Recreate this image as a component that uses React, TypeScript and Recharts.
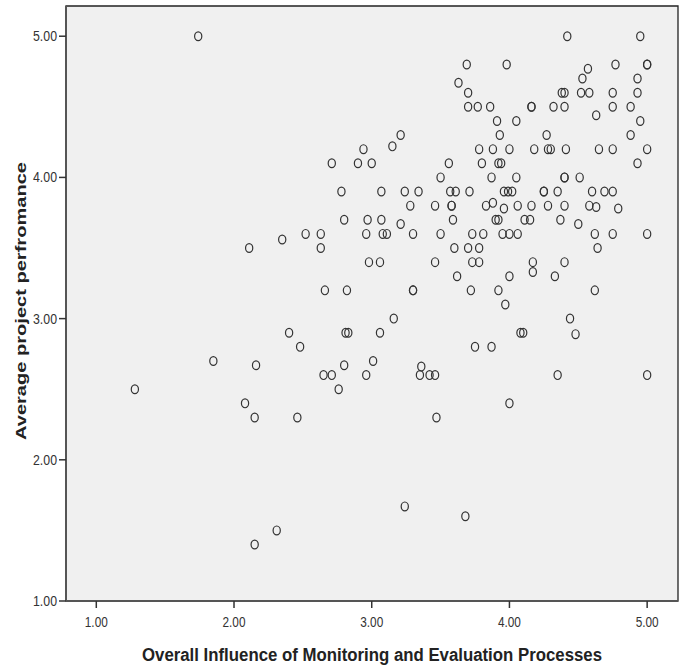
import { ScatterChart, Scatter, XAxis, YAxis, ReferenceArea } from "recharts";

// Overall Influence of Monitoring and Evaluation Processes (x)
const influence = [
    1.74, 4.42, 4.95, 3.69, 3.98, 4.77, 5.0, 5.0, 4.57, 4.53,
    4.93, 3.63, 3.7, 4.38, 4.4, 4.52, 4.58, 4.75, 4.93, 3.7,
    3.77, 3.86, 4.16, 4.16, 4.32, 4.4, 4.75, 4.88, 4.63, 3.91,
    4.05, 4.95, 3.21, 3.93, 4.27, 4.88, 3.15, 2.94, 3.78, 3.88,
    4.0, 4.18, 4.28, 4.3, 4.41, 4.65, 4.75, 5.0, 2.71, 2.9,
    3.0, 3.56, 3.8, 3.92, 3.94, 4.93, 3.5, 3.87, 4.05, 4.4,
    4.4, 4.51, 2.78, 3.07, 3.24, 3.34, 3.57, 3.61, 3.71, 3.96,
    3.99, 4.02, 4.25, 4.25, 4.35, 4.6, 4.69, 4.75, 3.28, 3.46,
    3.58, 3.58, 3.83, 3.88, 3.96, 4.06, 4.16, 4.28, 4.4, 4.58,
    4.63, 4.79, 2.8, 2.97, 3.07, 3.59, 3.9, 3.92, 4.11, 4.15,
    4.37, 3.21, 4.5, 2.52, 2.63, 2.96, 3.08, 3.11, 3.3, 3.5,
    3.73, 3.81, 3.95, 4.0, 4.06, 4.62, 4.75, 5.0, 2.35, 2.11,
    2.63, 3.6, 3.7, 3.78, 4.64, 2.98, 3.06, 3.46, 3.73, 3.78,
    4.17, 4.4, 4.17, 3.62, 4.0, 4.33, 2.66, 2.82, 3.3, 3.3,
    3.72, 3.92, 4.62, 3.97, 3.16, 4.44, 2.4, 2.81, 2.83, 3.06,
    4.08, 4.1, 4.48, 2.48, 3.75, 3.87, 1.85, 3.01, 2.16, 2.8,
    3.36, 2.65, 2.71, 2.96, 3.35, 3.42, 3.46, 4.35, 5.0, 1.28,
    2.76, 2.08, 4.0, 2.15, 2.46, 3.47, 3.24, 3.68, 2.31, 2.15,
];

// Average project perfromance (y)
const performance = [
    5.0, 5.0, 5.0, 4.8, 4.8, 4.8, 4.8, 4.8, 4.77, 4.7,
    4.7, 4.67, 4.6, 4.6, 4.6, 4.6, 4.6, 4.6, 4.6, 4.5,
    4.5, 4.5, 4.5, 4.5, 4.5, 4.5, 4.5, 4.5, 4.44, 4.4,
    4.4, 4.4, 4.3, 4.3, 4.3, 4.3, 4.22, 4.2, 4.2, 4.2,
    4.2, 4.2, 4.2, 4.2, 4.2, 4.2, 4.2, 4.2, 4.1, 4.1,
    4.1, 4.1, 4.1, 4.1, 4.1, 4.1, 4.0, 4.0, 4.0, 4.0,
    4.0, 4.0, 3.9, 3.9, 3.9, 3.9, 3.9, 3.9, 3.9, 3.9,
    3.9, 3.9, 3.9, 3.9, 3.9, 3.9, 3.9, 3.9, 3.8, 3.8,
    3.8, 3.8, 3.8, 3.82, 3.78, 3.8, 3.8, 3.8, 3.8, 3.8,
    3.79, 3.78, 3.7, 3.7, 3.7, 3.7, 3.7, 3.7, 3.7, 3.7,
    3.7, 3.67, 3.67, 3.6, 3.6, 3.6, 3.6, 3.6, 3.6, 3.6,
    3.6, 3.6, 3.6, 3.6, 3.6, 3.6, 3.6, 3.6, 3.56, 3.5,
    3.5, 3.5, 3.5, 3.5, 3.5, 3.4, 3.4, 3.4, 3.4, 3.4,
    3.4, 3.4, 3.33, 3.3, 3.3, 3.3, 3.2, 3.2, 3.2, 3.2,
    3.2, 3.2, 3.2, 3.1, 3.0, 3.0, 2.9, 2.9, 2.9, 2.9,
    2.9, 2.9, 2.89, 2.8, 2.8, 2.8, 2.7, 2.7, 2.67, 2.67,
    2.66, 2.6, 2.6, 2.6, 2.6, 2.6, 2.6, 2.6, 2.6, 2.5,
    2.5, 2.4, 2.4, 2.3, 2.3, 2.3, 1.67, 1.6, 1.5, 1.4,
];

const ticks = [1, 2, 3, 4, 5];

const X_MIN = 0.78;
const X_MAX = 5.224;
const Y_MIN = 1;
const Y_MAX = 5.214;

const points = influence.map((x, i) => ({ x, y: performance[i] }));

const FONT = "Liberation Sans, Arial, sans-serif";

// SPSS style hollow "o" marker
const Ring = (props: any) => (
    <ellipse cx={props.cx} cy={props.cy} rx={3.6} ry={4.4} fill="none" stroke="#333" strokeWidth={1.2} />
);

// tick labels are a bit condensed in the original, squeeze them a little
const XTick = (props: any) => (
    <text x={props.x} y={props.y} dy={10} textAnchor="middle" textLength={23} lengthAdjust="spacingAndGlyphs"
        style={{ fontFamily: FONT, fontSize: 14, fill: "#333" }}>
        {props.payload.value.toFixed(2)}
    </text>
);

const YTick = (props: any) => (
    <text x={props.x} y={props.y} dy={5} textAnchor="end" textLength={24} lengthAdjust="spacingAndGlyphs"
        style={{ fontFamily: FONT, fontSize: 14, fill: "#333" }}>
        {props.payload.value.toFixed(2)}
    </text>
);

const XTitle = () => (
    <text x={372} y={661} textAnchor="middle" textLength={460} lengthAdjust="spacingAndGlyphs"
        style={{ fontFamily: FONT, fontSize: 18, fontWeight: 700, fill: "#222" }}>
        Overall Influence of Monitoring and Evaluation Processes
    </text>
);

const YTitle = () => (
    <text x={26} y={301} transform="rotate(-90 26 301)" textAnchor="middle" textLength={278} lengthAdjust="spacingAndGlyphs"
        style={{ fontFamily: FONT, fontSize: 15.5, fontWeight: 700, fill: "#222" }}>
        Average project perfromance
    </text>
);

export default function App() {
    return (
        <div style={{ position: "absolute", left: 0, top: 0, background: "#fff" }}>
            <ScatterChart width={686} height={668} margin={{ top: 6, right: 8, left: 0, bottom: 0 }}>
                <ReferenceArea x1={X_MIN} x2={X_MAX} y1={Y_MIN} y2={Y_MAX} fill="#f0f0f0" fillOpacity={1} stroke="#222" strokeWidth={1.3} />
                <XAxis
                    type="number"
                    dataKey="x"
                    domain={[X_MIN, X_MAX]}
                    ticks={ticks}
                    allowDataOverflow
                    height={67}
                    tickSize={7}
                    tickMargin={9}
                    tick={<XTick />}
                    axisLine={{ stroke: "#555", strokeWidth: 2 }}
                    tickLine={{ stroke: "#333", strokeWidth: 1.5 }}
                    label={{ content: () => <XTitle /> }}
                />
                <YAxis
                    type="number"
                    dataKey="y"
                    domain={[Y_MIN, Y_MAX]}
                    ticks={ticks}
                    allowDataOverflow
                    width={66}
                    tickSize={7}
                    tickMargin={2}
                    tick={<YTick />}
                    axisLine={{ stroke: "#555", strokeWidth: 2 }}
                    tickLine={{ stroke: "#333", strokeWidth: 1.5 }}
                    label={{ content: () => <YTitle /> }}
                />
                <Scatter data={points} shape={Ring} isAnimationActive={false} />
            </ScatterChart>
        </div>
    );
}
